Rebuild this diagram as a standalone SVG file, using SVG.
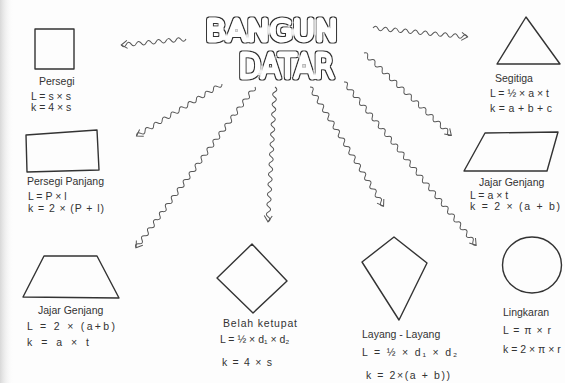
<svg xmlns="http://www.w3.org/2000/svg" width="565" height="383" viewBox="0 0 565 383">
<defs>
<linearGradient id="edge" x1="0" y1="0" x2="1" y2="0">
<stop offset="0" stop-color="#d8d8d8"/>
<stop offset="1" stop-color="#ffffff" stop-opacity="0"/>
</linearGradient>
<filter id="bubble" x="-10%" y="-25%" width="120%" height="150%">
<feMorphology in="SourceAlpha" operator="erode" radius="1.3" result="inner"/>
<feComposite in="SourceAlpha" in2="inner" operator="out" result="ring"/>
<feFlood flood-color="#333" result="dark"/>
<feComposite in="dark" in2="ring" operator="in" result="line"/>
<feFlood flood-color="#fff" result="w"/>
<feComposite in="w" in2="inner" operator="in" result="fill"/>
<feMerge><feMergeNode in="fill"/><feMergeNode in="line"/></feMerge>
</filter>
<style>
.shape{fill:none;stroke:#333;stroke-width:1.4;stroke-linejoin:round}
.wave{fill:none;stroke:#555;stroke-width:1}
.t{font-family:"Liberation Sans",Arial,sans-serif;font-size:10.5px;fill:#333}
.title{font-family:"DejaVu Sans","Liberation Sans",sans-serif;fill:#333;stroke:#333;stroke-width:5;stroke-linejoin:round;stroke-linecap:round}
</style>
</defs>
<rect width="565" height="383" fill="#fdfdfd"/>
<rect width="14" height="383" fill="url(#edge)"/>

<g id="title">
<text class="title" filter="url(#bubble)"><tspan x="205.5" y="40.5" font-size="31" textLength="132" lengthAdjust="spacingAndGlyphs">BANGUN</tspan><tspan x="238.5" y="77.5" font-size="33" textLength="96" lengthAdjust="spacingAndGlyphs">DATAR</tspan></text>
</g>

<g id="connectors">
<g transform="translate(186,39) rotate(174.7)">
<path class="wave" d="M0,0 q2.5,-4 5,0 t5,0 t5,0 t5,0 t5,0 t5,0 t5,0 t5,0 t5,0 t5,0 t5,0 t5,0 t5,0"/>
<path class="wave" d="M59,-4 L65,0 L59,4"/>
</g>
<g transform="translate(373,28) rotate(5.4)">
<path class="wave" d="M0,0 q2.5,-4 5,0 t5,0 t5,0 t5,0 t5,0 t5,0 t5,0 t5,0 t5,0 t5,0 t5,0 t5,0 t5,0 t5,0 t5,0 t5,0 t5,0 t5,0 t5,0"/>
<path class="wave" d="M89,-4 L95,0 L89,4"/>
</g>
<g transform="translate(222,84) rotate(148.7)">
<path class="wave" d="M0,0 q2.5,-4 5,0 t5,0 t5,0 t5,0 t5,0 t5,0 t5,0 t5,0 t5,0 t5,0 t5,0 t5,0 t5,0 t5,0 t5,0 t5,0 t5,0 t5,0 t5,0 t5,0"/>
<path class="wave" d="M94,-4 L100,0 L94,4"/>
</g>
<g transform="translate(255,87) rotate(126.5)">
<path class="wave" d="M0,0 q2.5,-4 5,0 t5,0 t5,0 t5,0 t5,0 t5,0 t5,0 t5,0 t5,0 t5,0 t5,0 t5,0 t5,0 t5,0 t5,0 t5,0 t5,0 t5,0 t5,0 t5,0 t5,0 t5,0 t5,0 t5,0 t5,0 t5,0 t5,0 t5,0 t5,0 t5,0 t5,0 t5,0 t5,0 t5,0 t5,0 t5,0 t5,0 t5,0 t5,0 t5,0"/>
<path class="wave" d="M194,-4 L200,0 L194,4"/>
</g>
<g transform="translate(275,87) rotate(93)">
<path class="wave" d="M0,0 q2.5,-4 5,0 t5,0 t5,0 t5,0 t5,0 t5,0 t5,0 t5,0 t5,0 t5,0 t5,0 t5,0 t5,0 t5,0 t5,0 t5,0 t5,0 t5,0 t5,0 t5,0 t5,0 t5,0 t5,0 t5,0 t5,0 t5,0 t5,0"/>
<path class="wave" d="M129,-4 L135,0 L129,4"/>
</g>
<g transform="translate(310,87) rotate(58.3)">
<path class="wave" d="M0,0 q2.5,-4 5,0 t5,0 t5,0 t5,0 t5,0 t5,0 t5,0 t5,0 t5,0 t5,0 t5,0 t5,0 t5,0 t5,0 t5,0 t5,0 t5,0 t5,0 t5,0 t5,0 t5,0 t5,0 t5,0 t5,0 t5,0 t5,0 t5,0 t5,0"/>
<path class="wave" d="M134,-4 L140,0 L134,4"/>
</g>
<g transform="translate(344,82) rotate(51)">
<path class="wave" d="M0,0 q2.5,-4 5,0 t5,0 t5,0 t5,0 t5,0 t5,0 t5,0 t5,0 t5,0 t5,0 t5,0 t5,0 t5,0 t5,0 t5,0 t5,0 t5,0 t5,0 t5,0 t5,0 t5,0 t5,0 t5,0 t5,0 t5,0 t5,0 t5,0 t5,0 t5,0 t5,0 t5,0 t5,0 t5,0 t5,0 t5,0 t5,0 t5,0 t5,0 t5,0 t5,0 t5,0 t5,0"/>
<path class="wave" d="M204,-4 L210,0 L204,4"/>
</g>
<g transform="translate(364,53) rotate(43.3)">
<path class="wave" d="M0,0 q2.5,-4 5,0 t5,0 t5,0 t5,0 t5,0 t5,0 t5,0 t5,0 t5,0 t5,0 t5,0 t5,0 t5,0 t5,0 t5,0 t5,0 t5,0 t5,0 t5,0 t5,0 t5,0 t5,0 t5,0 t5,0"/>
<path class="wave" d="M114,-4 L120,0 L114,4"/>
</g>
</g>

<g id="persegi">
<rect class="shape" x="35" y="29" width="39" height="40"/>
<text class="t" x="39" y="85" font-size="8">Persegi</text>
<text class="t" x="31" y="100">L = s × s</text>
<text class="t" x="31" y="111">k = 4 × s</text>
</g>

<g id="persegi-panjang">
<path class="shape" d="M26,135 L97,130 L99,170 L27,172 Z"/>
<text class="t" x="27" y="185" font-size="9.3">Persegi Panjang</text>
<text class="t" x="28" y="200">L = P × l</text>
<text class="t" x="28" y="212" font-size="11" textLength="76" lengthAdjust="spacing">k = 2 × (P + l)</text>
</g>

<g id="segitiga">
<path class="shape" d="M526,17 L560,64 L497,64 Z"/>
<text class="t" x="495" y="82" font-size="8">Segitiga</text>
<text class="t" x="490" y="97" font-size="8.5">L = ½ × a × t</text>
<text class="t" x="490" y="112" textLength="62" lengthAdjust="spacing">k = a + b + c</text>
</g>

<g id="jajar-genjang-kanan">
<path class="shape" d="M485,133 L558,132 L547,171 L464,171 Z"/>
<text class="t" x="479" y="186" font-size="7.5">Jajar Genjang</text>
<text class="t" x="470" y="199" font-size="10">L = a × t</text>
<text class="t" x="470" y="210" font-size="11" textLength="90" lengthAdjust="spacing">k = 2 × (a + b)</text>
</g>

<g id="jajar-genjang-kiri">
<path class="shape" d="M44,256 L97,256 L119,298 L23,297 Z"/>
<text class="t" x="38" y="314" font-size="10">Jajar Genjang</text>
<text class="t" x="27" y="330" font-size="11.5" textLength="88" lengthAdjust="spacing">L = 2 × (a+b)</text>
<text class="t" x="27" y="346" font-size="11.5" textLength="62" lengthAdjust="spacing">k = a × t</text>
</g>

<g id="belah-ketupat">
<path class="shape" d="M252,244 L287,281 L253,313 L217,278 Z"/>
<text class="t" x="223" y="327" font-size="11" textLength="74" lengthAdjust="spacing">Belah ketupat</text>
<text class="t" x="220" y="343" font-size="11.5">L = ½ × d₁ × d₂</text>
<text class="t" x="222" y="366" font-size="11.5" textLength="50" lengthAdjust="spacing">k = 4 × s</text>
</g>

<g id="layang-layang">
<path class="shape" d="M394,237 L427,263 L399,320 L362,262 Z"/>
<text class="t" x="362" y="338" font-size="11.5">Layang - Layang</text>
<text class="t" x="362" y="356" font-size="12" textLength="95" lengthAdjust="spacing">L = ½ × d₁ × d₂</text>
<text class="t" x="366" y="379" font-size="12" textLength="84" lengthAdjust="spacing">k = 2×(a + b))</text>
</g>

<g id="lingkaran">
<ellipse class="shape" cx="532" cy="265" rx="29.5" ry="28"/>
<text class="t" x="503" y="316" font-size="8">Lingkaran</text>
<text class="t" x="503" y="334" font-size="11" textLength="48" lengthAdjust="spacing">L = π × r</text>
<text class="t" x="503" y="353" font-size="11">k = 2 × π × r</text>
</g>
</svg>
